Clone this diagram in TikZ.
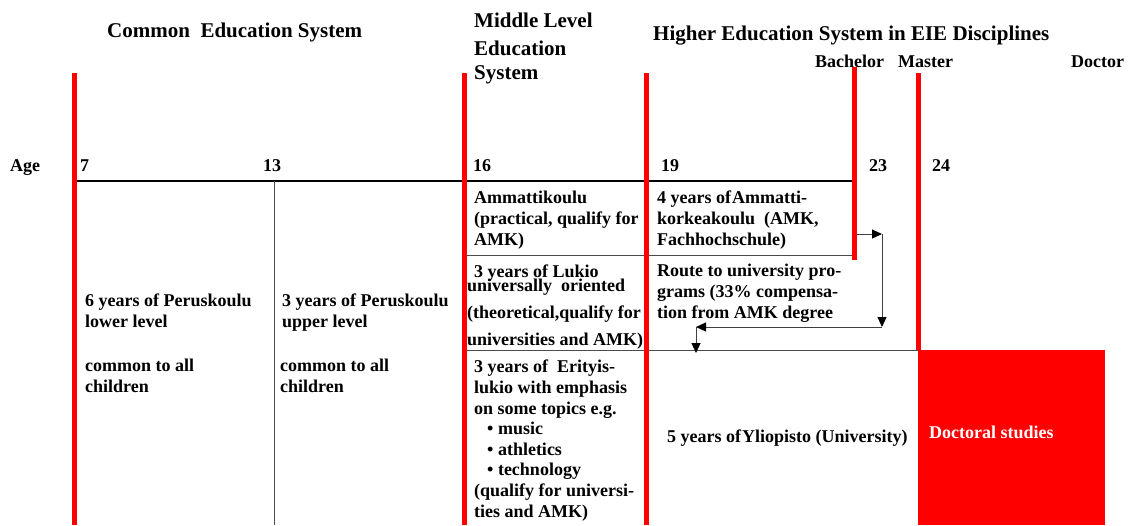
\documentclass[tikz,border=0pt]{standalone}
\usepackage{fontspec}
\setmainfont{Liberation Serif}
\usetikzlibrary{arrows.meta}

\tikzset{
  redbar/.style={red, line width=5pt},
  gridline/.style={black!70, line width=1pt},
  txt/.style={anchor=base west, inner sep=0pt, align=left,
    font=\bfseries\fontsize{18}{20.6}\selectfont},
  headtxt/.style={txt, font=\bfseries\fontsize{21}{24}\selectfont},
  flow/.style={-{Triangle[length=10pt,width=9pt,black]}, line width=1pt, black!75}
}

\begin{document}
\begin{tikzpicture}[x=1pt, y=-1pt]
\useasboundingbox (0,0) rectangle (1131,525);

% headings (multi-line nodes sit on their last baseline)
\node[headtxt] (common) at (107,37) {Common\ \ Education System};
\node[headtxt] (middle) at (474,79) {Middle Level\\[4pt]Education\\System};
\node[headtxt] (higher) at (653,40) {Higher Education System in EIE Disciplines};
\node[txt] (bachelor) at (815,67) {Bachelor};
\node[txt] (master) at (898,67) {Master};
\node[txt] (doctor) at (1071,67) {Doctor};

% ages
\node[txt] (age) at (10,171) {Age};
\node[txt] (a7) at (80,171) {7};
\node[txt] (a13) at (263,171) {13};
\node[txt] (a16) at (473,171) {16};
\node[txt] (a19) at (661,171) {19};
\node[txt] (a23) at (869,171) {23};
\node[txt] (a24) at (932,171) {24};

% grid
\draw[black, line width=1.2pt] (76,181) -- (852,181);
\draw[gridline] (274,181) -- (274,525);
\draw[gridline] (464,255) -- (852,255);
\draw[gridline] (464,350) -- (918,350);
\fill[red] (918,350) rectangle (1105,525);

% red bars
\draw[redbar] (74,73) -- (74,525);
\draw[redbar] (464,73) -- (464,525);
\draw[redbar] (646,73) -- (646,525);
\draw[redbar] (854,67) -- (854,260);
\draw[redbar] (918,73) -- (918,350);

% common school
\node[txt] (lower) at (85,327) {6 years of Peruskoulu\\lower level};
\node[txt] (lowerall) at (85,392) {common to all\\children};
\node[txt] (upper) at (282,327) {3 years of Peruskoulu\\upper level};
\node[txt] (upperall) at (280,392) {common to all\\children};

% middle level
\node[txt] (ammatti) at (474,245) {Ammattikoulu\\(practical, qualify for\\AMK)};
\node[txt] (lukio) at (474,277) {3 years of Lukio};
\node[txt] (lukiob) at (467,345) {universally\ \ oriented\\[6.4pt](theoretical,qualify for\\[6.4pt]universities and AMK)};
\node[txt] (erityis) at (474,517) {3 years of\ \ Erityis-\\lukio with emphasis\\on some topics e.g.\\\hspace{13pt}• music\\\hspace{13pt}• athletics\\\hspace{13pt}• technology\\(qualify for universi-\\ties and AMK)};

% higher level
\node[txt] (amk) at (657,245) {4 years of\kern1pt Ammatti-\\korkeakoulu\ \ (AMK,\\Fachhochschule)};
\node[txt] (route) at (657,318) {Route to university pro-\\grams (33\% compensa-\\tion from AMK degree};
\node[txt] (yliopisto) at (667,442) {5 years of\kern1pt Yliopisto (University)};
\node[txt, white] (doctoral) at (929,438) {Doctoral studies};

% route arrows
\coordinate (r1) at (857,234);
\coordinate (r2) at (882,234);
\coordinate (r3) at (882,327);
\coordinate (r4) at (696,327);
\coordinate (r5) at (696,353);
\draw[flow] (r1) -- (r2);
\draw[flow] (r2) -- (r3);
\draw[flow] (r3) -- (r4);
\draw[flow] (r4) -- (r5);
\end{tikzpicture}
\end{document}
